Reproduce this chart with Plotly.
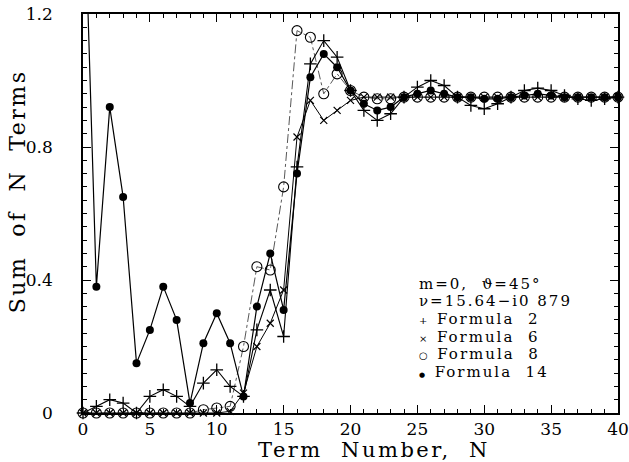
import plotly.graph_objects as go

# ---- data ----
N = list(range(0, 41))

formula_2 = [0.0, 0.02, 0.04, 0.03, 0.0, 0.05, 0.07, 0.05, 0.02, 0.09, 0.13, 0.08, 0.05,
             0.25, 0.37, 0.23, 0.74, 1.05, 1.12, 1.07, 0.97, 0.91, 0.88, 0.90, 0.95, 0.98,
             1.00, 0.985, 0.95, 0.925, 0.915, 0.93, 0.95, 0.97, 0.977, 0.97, 0.955, 0.945,
             0.94, 0.945, 0.95]

formula_6 = [0.0, 0.0, 0.0, 0.0, 0.0, 0.0, 0.0, 0.0, 0.0, 0.0, 0.0, 0.005, 0.06,
             0.20, 0.27, 0.37, 0.83, 0.94, 0.88, 0.91, 0.94, 0.95, 0.95, 0.95, 0.95, 0.95,
             0.95, 0.95, 0.95, 0.95, 0.95, 0.95, 0.95, 0.95, 0.95, 0.95, 0.95, 0.95,
             0.95, 0.95, 0.95]

formula_8 = [0.0, 0.0, 0.0, 0.0, 0.0, 0.0, 0.0, 0.0, 0.0, 0.01, 0.015, 0.02, 0.20,
             0.44, 0.43, 0.68, 1.15, 1.13, 0.96, 1.02, 0.97, 0.95, 0.945, 0.945, 0.95, 0.95,
             0.95, 0.95, 0.95, 0.95, 0.95, 0.95, 0.95, 0.95, 0.95, 0.95, 0.95, 0.95,
             0.95, 0.95, 0.95]

formula_14 = [1.7, 0.38, 0.92, 0.65, 0.15, 0.25, 0.38, 0.28, 0.03, 0.21, 0.30, 0.21, 0.05,
              0.32, 0.48, 0.31, 0.72, 1.01, 1.08, 1.04, 0.97, 0.93, 0.91, 0.92, 0.95, 0.96,
              0.97, 0.96, 0.95, 0.95, 0.945, 0.945, 0.95, 0.955, 0.96, 0.955, 0.95, 0.95,
              0.95, 0.95, 0.95]

x_ticks = [0, 5, 10, 15, 20, 25, 30, 35, 40]
y_ticks = [0, 0.4, 0.8, 1.2]
y_ticktext = ["0", "0.4", "0.8", "1.2"]

header_lines = ["m=0,  \u03d1=45\u00b0", "\u03bd=15.64\u2212i0 879"]
legend_symbols = ["+", "\u00d7", "\u25cb", "\u25cf"]
legend_symbol_sizes = [10, 10, 10, 7]
legend_labels = ["Formula  2", "Formula  6", "Formula  8", "Formula  14"]

FONT = "DejaVu Serif"
INK = "black"

fig = go.Figure()

fig.add_trace(go.Scatter(
    x=N, y=formula_8, mode="lines+markers", name="Formula 8",
    line=dict(color="#444444", width=0.9, dash="dashdot"),
    marker=dict(symbol="circle-open", size=10, color=INK, line=dict(width=1.1, color=INK)),
    cliponaxis=False))
fig.add_trace(go.Scatter(
    x=N, y=formula_6, mode="lines+markers", name="Formula 6",
    line=dict(color=INK, width=1.0),
    marker=dict(symbol="x-thin", size=7, color=INK, line=dict(width=1.2, color=INK)),
    cliponaxis=False))
fig.add_trace(go.Scatter(
    x=N, y=formula_2, mode="lines+markers", name="Formula 2",
    line=dict(color=INK, width=1.1),
    marker=dict(symbol="cross-thin", size=9, color=INK, line=dict(width=1.3, color=INK)),
    cliponaxis=False))
fig.add_trace(go.Scatter(
    x=N, y=formula_14, mode="lines+markers", name="Formula 14",
    line=dict(color=INK, width=1.2),
    marker=dict(symbol="circle", size=8, color=INK),
    cliponaxis=False))

axis_common = dict(
    showline=True, linecolor=INK, linewidth=1.5, mirror="ticks",
    ticks="inside", ticklen=8, tickwidth=1, tickcolor=INK,
    showgrid=False, zeroline=False, automargin=False,
    tickfont=dict(family=FONT, size=17, color=INK),
)

fig.update_xaxes(range=[0, 40], tickvals=x_ticks,
                 minor=dict(dtick=1, ticks="inside", ticklen=4, tickcolor=INK, showgrid=False),
                 ticklabelstandoff=0, **axis_common)
fig.update_yaxes(range=[0, 1.2], tickvals=y_ticks, ticktext=y_ticktext,
                 minor=dict(dtick=0.04, ticks="inside", ticklen=4, tickcolor=INK, showgrid=False),
                 ticklabelstandoff=25, **axis_common)

annotations = []
X0 = 0.626
line_y = [0.3241, 0.2799, 0.2358, 0.1917, 0.1476, 0.1035]
LEG_FONT = 15
for txt, yy in zip(header_lines, line_y[:2]):
    annotations.append(dict(
        x=X0, y=yy, xref="paper", yref="paper", xanchor="left", yanchor="middle",
        text='<span style="letter-spacing:2px">' + txt + '</span>', showarrow=False,
        borderpad=0, font=dict(family=FONT, size=LEG_FONT, color=INK)))

for sym, ssz, lab, yy in zip(legend_symbols, legend_symbol_sizes, legend_labels, line_y[2:]):
    annotations.append(dict(
        x=X0, y=yy, xref="paper", yref="paper", xanchor="left", yanchor="middle",
        text='<span style="font-size:%dpx">' % ssz + sym + '</span>  '
             '<span style="letter-spacing:2px">' + lab + '</span>',
        showarrow=False, borderpad=0, font=dict(family=FONT, size=LEG_FONT, color=INK)))

annotations.append(dict(
    x=0.543, y=-0.092, xref="paper", yref="paper", xanchor="center", yanchor="middle",
    text='<span style="letter-spacing:2.5px">Term  Number,  N</span>', showarrow=False,
    borderpad=0, font=dict(family=FONT, size=21, color=INK)))
annotations.append(dict(
    x=-0.123, y=0.556, xref="paper", yref="paper", xanchor="center", yanchor="middle",
    text='<span style="letter-spacing:2.5px">Sum  of  N  Terms</span>', showarrow=False,
    borderpad=0, textangle=-90, font=dict(family=FONT, size=22, color=INK)))

fig.update_layout(
    width=629, height=462,
    margin=dict(l=83, r=11, t=14, b=49),
    paper_bgcolor="white", plot_bgcolor="white",
    showlegend=False,
    annotations=annotations,
)

fig.write_html("out.html", config={"displayModeBar": False},
               post_script="document.body.style.margin='0';document.body.style.overflow='hidden';")
